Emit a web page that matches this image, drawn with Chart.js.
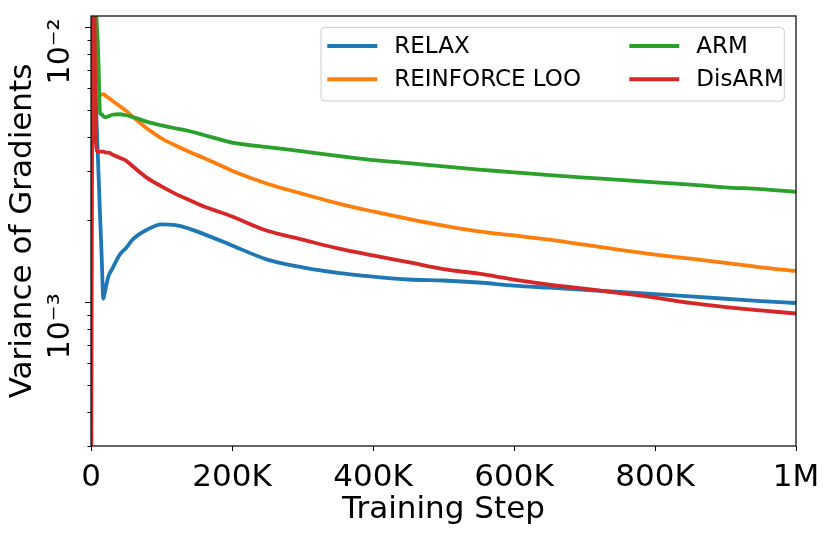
<!DOCTYPE html>
<html><head><meta charset="utf-8">
<script src="https://cdn.jsdelivr.net/npm/chart.js@4.4.0/dist/chart.umd.min.js"></script>
<style>html,body{margin:0;padding:0;background:#fff;overflow:hidden}</style>
</head><body>
<canvas id="c" width="831" height="536" style="display:block;width:831px;height:536px"></canvas>
<script>
const steps = [0, 3000, 7000, 10000, 13000, 15000, 17500, 20000, 22500, 25000, 30000, 40000, 50000, 60000, 80000, 100000, 120000, 140000, 160000, 180000, 200000, 250000, 300000, 350000, 400000, 450000, 500000, 550000, 600000, 650000, 700000, 750000, 800000, 850000, 900000, 950000, 1000000];
const relax = [0.05, 0.02, 0.0055, 0.00327, 0.00202, 0.00150, 0.00103, 0.00110, 0.00118, 0.00125, 0.00132, 0.00148, 0.00158, 0.00170, 0.00184, 0.00192, 0.00191, 0.00185, 0.00177, 0.00169, 0.00161, 0.00143, 0.00134, 0.00128, 0.00124, 0.00121, 0.00120, 0.00118, 0.00115, 0.00113, 0.00111, 0.00109, 0.00107, 0.00105, 0.00103, 0.00101, 0.000994];
const reinforceLoo = [0.05, 0.02, 0.009, 0.0062, 0.00569, 0.00570, 0.00572, 0.00566, 0.00559, 0.00554, 0.00542, 0.00519, 0.00497, 0.00471, 0.00428, 0.00395, 0.00372, 0.00352, 0.00335, 0.00318, 0.00301, 0.00270, 0.00248, 0.00229, 0.00214, 0.00201, 0.00190, 0.00181, 0.00175, 0.00169, 0.00162, 0.00155, 0.00149, 0.00144, 0.00139, 0.00134, 0.00130];
const arm = [0.06, 0.03, 0.012, 0.0083, 0.00486, 0.00483, 0.00475, 0.00471, 0.00472, 0.00475, 0.00481, 0.00483, 0.00479, 0.00471, 0.00453, 0.00440, 0.00429, 0.00419, 0.00406, 0.00393, 0.00381, 0.00367, 0.00354, 0.00341, 0.00329, 0.00321, 0.00312, 0.00304, 0.00297, 0.00290, 0.00284, 0.00279, 0.00273, 0.00268, 0.00262, 0.00258, 0.00252];
const disarm = [0.0001, 0.03, 0.0038, 0.00353, 0.00353, 0.00353, 0.00353, 0.00351, 0.00350, 0.00350, 0.00345, 0.00336, 0.00327, 0.00311, 0.00283, 0.00264, 0.00248, 0.00235, 0.00223, 0.00214, 0.00205, 0.00182, 0.00169, 0.00157, 0.00148, 0.00140, 0.00132, 0.00127, 0.00121, 0.00116, 0.00112, 0.00108, 0.00104, 0.000994, 0.000961, 0.000934, 0.000910];

const seriesNames = ['RELAX', 'REINFORCE LOO', 'ARM', 'DisARM'];
const seriesColors = ['#1f77b4', '#ff7f0e', '#2ca02c', '#d62728'];

const xTicks = [0, 200000, 400000, 600000, 800000, 1000000];
const xTickLabels = ['0', '200K', '400K', '600K', '800K', '1M'];
const yTicks = [0.0003, 0.0004, 0.0005, 0.0006, 0.0007, 0.0008, 0.0009, 0.001, 0.002, 0.003, 0.004, 0.005, 0.006, 0.007, 0.008, 0.009, 0.01];
const yTickLabels = ['', '', '', '', '', '', '', '10\u207B\u00B3', '', '', '', '', '', '', '', '', '10\u207B\u00B2'];

const FONT = "'DejaVu Sans', sans-serif";
Chart.defaults.font.family = FONT;
Chart.defaults.color = '#000';

const seriesData = [relax, reinforceLoo, arm, disarm];
const datasets = seriesData.map((vals, i) => ({
  label: seriesNames[i],
  data: steps.map((s, j) => ({x: s, y: vals[j]})),
  borderColor: seriesColors[i],
  backgroundColor: seriesColors[i],
  borderWidth: 3.8,
  pointRadius: 0,
  cubicInterpolationMode: 'monotone',
  fill: false,
  order: seriesNames.length - i
}));

const framePlugin = {
  id: 'frame',
  afterDatasetsDraw(chart) {
    const {ctx, chartArea: a, scales} = chart;
    ctx.save();
    const ys = scales.y;
    ctx.strokeStyle = '#000';
    ctx.lineWidth = 1;
    yTicks.forEach((v, i) => {
      if (yTickLabels[i] !== '') return;
      const py = Math.round(ys.getPixelForValue(v)) + 0.5;
      ctx.beginPath();
      ctx.moveTo(a.left - 3.5, py);
      ctx.lineTo(a.left, py);
      ctx.stroke();
    });
    ctx.lineWidth = 1.3;
    ctx.strokeStyle = '#111';
    ctx.strokeRect(a.left, a.top, a.right - a.left, a.bottom - a.top);
    ctx.restore();
  }
};

const legendPlugin = {
  id: 'customLegend',
  afterDraw(chart) {
    const {ctx, chartArea: a} = chart;
    const bx = a.right - 11.7, by = a.top + 11.3;
    const w = 463.3, h = 73.7;
    const x0 = bx - w;
    ctx.save();
    ctx.beginPath();
    if (ctx.roundRect) ctx.roundRect(x0, by, w, h, 4); else ctx.rect(x0, by, w, h);
    ctx.fillStyle = 'rgba(255,255,255,0.8)';
    ctx.fill();
    ctx.strokeStyle = '#cccccc';
    ctx.lineWidth = 1;
    ctx.stroke();
    ctx.font = "23px " + FONT;
    ctx.textBaseline = 'middle';
    ctx.textAlign = 'left';
    chart.data.datasets.forEach((ds, i) => {
      const col = Math.floor(i / 2), row = i % 2;
      const lx = x0 + 6.3 + col * 302;
      const ly = by + 18.7 + row * 33.3;
      ctx.strokeStyle = ds.borderColor;
      ctx.lineWidth = 4;
      ctx.beginPath();
      ctx.moveTo(lx, ly);
      ctx.lineTo(lx + 50, ly);
      ctx.stroke();
      ctx.fillStyle = '#000';
      ctx.fillText(ds.label, lx + 67, ly + 1);
    });
    ctx.restore();
  }
};

new Chart(document.getElementById('c'), {
  type: 'line',
  data: {datasets},
  plugins: [framePlugin, legendPlugin],
  options: {
    responsive: false,
    animation: false,
    devicePixelRatio: 1,
    layout: {padding: {left: 0, top: 16, right: 35, bottom: 0}},
    plugins: {legend: {display: false}, tooltip: {enabled: false}},
    scales: {
      x: {
        type: 'linear',
        min: 0,
        max: 1000000,
        afterBuildTicks: s => { s.ticks = xTicks.map(v => ({value: v})); },
        afterFit: s => { s.height = 90; s.paddingLeft = 0; s.paddingRight = 0; },
        ticks: {
          autoSkip: false,
          maxRotation: 0,
          padding: 8,
          color: '#000',
          font: {size: 31, family: FONT},
          callback: (v) => { const k = xTicks.indexOf(v); return k >= 0 ? xTickLabels[k] : ''; }
        },
        grid: {drawOnChartArea: false, drawTicks: true, tickLength: 5, tickColor: '#000', tickWidth: 1},
        border: {display: false},
        title: {display: true, text: 'Training Step', color: '#000', font: {size: 31, family: FONT}, padding: {top: 0, bottom: 7}}
      },
      y: {
        type: 'logarithmic',
        min: 0.0003,
        max: 0.011,
        afterBuildTicks: s => { s.ticks = yTicks.map(v => ({value: v})); },
        afterFit: s => { s.width = 91; s.paddingTop = 0; s.paddingBottom = 0; },
        ticks: {
          autoSkip: false,
          minRotation: 90,
          maxRotation: 90,
          padding: 24,
          labelOffset: -9,
          color: '#000',
          font: {size: 30, family: FONT},
          callback: (v) => { const k = yTicks.indexOf(v); return k >= 0 ? yTickLabels[k] : ''; }
        },
        grid: {
          drawOnChartArea: false, drawTicks: true, tickLength: 6, tickWidth: 1,
          tickColor: c => (c.tick && yTickLabels[yTicks.indexOf(c.tick.value)] !== '') ? '#000' : 'rgba(0,0,0,0)'
        },
        border: {display: false},
        title: {display: true, text: 'Variance of Gradients', color: '#000', font: {size: 31, family: FONT}, padding: {top: 4, bottom: 0}}
      }
    }
  }
});
</script>
</body></html>
